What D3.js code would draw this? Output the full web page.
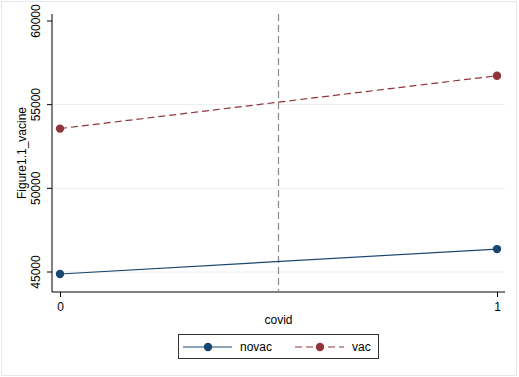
<!DOCTYPE html>
<html>
<head>
<meta charset="utf-8">
<script src="https://cdn.jsdelivr.net/npm/d3@7"></script>
<style>
  body { margin: 0; background: #fff; }
  text { font-family: "Liberation Sans", Arial, sans-serif; fill: #000; }
</style>
</head>
<body>
<div id="chart"></div>
<script>
// data
var covid = [0, 1];
var novac = [44880, 46370];
var vac = [53570, 56730];
var yTicks = [45000, 50000, 55000, 60000];
var xTicks = [0, 1];
var cutoff = 0.5;

var width = 519, height = 377;
var svg = d3.select("#chart").append("svg")
    .attr("width", width).attr("height", height);

// outer frame
svg.append("rect").attr("x", 1.5).attr("y", 1.5)
    .attr("width", 515).attr("height", 374)
    .attr("fill", "#fff").attr("stroke", "#e4e8ec");

var x = d3.scaleLinear().domain([0, 1]).range([60, 497]);
var y = d3.scaleLinear().domain([45000, 60000]).range([272, 21]);

// gridlines
svg.selectAll(".grid").data([45000, 50000, 55000]).enter()
    .append("line")
    .attr("x1", 53).attr("x2", 505)
    .attr("y1", function(d) { return y(d); })
    .attr("y2", function(d) { return y(d); })
    .attr("stroke", "#eaeef1").attr("stroke-width", 1);

// axes
var yAxis = svg.append("g").attr("transform", "translate(52,0)")
    .call(d3.axisLeft(y).tickValues(yTicks).tickSize(5).tickFormat(d3.format("d")));
yAxis.select(".domain").attr("d", "M0,14V292");
yAxis.selectAll("text")
    .attr("transform", function(d) { return "translate(-16," + y(d) + ") rotate(-90)"; })
    .attr("x", 0).attr("y", 0).attr("dy", "0.35em")
    .style("text-anchor", "middle").style("font-size", "12px");
yAxis.selectAll(".tick").attr("transform", "translate(0,0)");
yAxis.selectAll(".tick line").attr("y1", function(d) { return y(d); }).attr("y2", function(d) { return y(d); });

var xAxis = svg.append("g").attr("transform", "translate(0,292)")
    .call(d3.axisBottom(x).tickValues(xTicks).tickSize(5).tickFormat(d3.format("d")));
xAxis.select(".domain").attr("d", "M52,0H505");
xAxis.selectAll("text").attr("dy", "0.9em").style("font-size", "12px");

svg.selectAll(".domain, .tick line").attr("stroke", "#000");

// cutoff line
svg.append("line")
    .attr("x1", x(cutoff)).attr("x2", x(cutoff))
    .attr("y1", 14).attr("y2", 292)
    .attr("stroke", "#8a8a8a").attr("stroke-width", 1.2)
    .attr("stroke-dasharray", "7,4");

var series = [
  { name: "novac", vals: novac, color: "#1a476f", dash: null },
  { name: "vac", vals: vac, color: "#90353b", dash: "7,4" }
];

var line = d3.line()
    .x(function(d, i) { return x(covid[i]); })
    .y(function(d) { return y(d); });

series.forEach(function(s) {
  svg.append("path").datum(s.vals)
      .attr("d", line)
      .attr("fill", "none")
      .attr("stroke", s.color).attr("stroke-width", 1.2)
      .attr("stroke-dasharray", s.dash);
  svg.selectAll(".pt-" + s.name).data(s.vals).enter()
      .append("circle")
      .attr("cx", function(d, i) { return x(covid[i]); })
      .attr("cy", function(d) { return y(d); })
      .attr("r", 4.2)
      .attr("fill", s.color);
});

// titles
svg.append("text")
    .attr("transform", "translate(22,153) rotate(-90)")
    .attr("dy", "0.35em")
    .style("text-anchor", "middle").style("font-size", "12px")
    .text("Figure1.1_vacine");
svg.append("text")
    .attr("x", x(cutoff)).attr("y", 320).attr("dy", "0.35em")
    .style("text-anchor", "middle").style("font-size", "12px")
    .text("covid");

// legend
var lg = svg.append("g");
lg.append("rect").attr("x", 178.5).attr("y", 334.5)
    .attr("width", 200).attr("height", 24)
    .attr("fill", "#fff").attr("stroke", "#333");
var legX = [183, 295];
series.forEach(function(s, i) {
  var x0 = legX[i];
  lg.append("line").attr("x1", x0).attr("x2", x0 + 49)
      .attr("y1", 347).attr("y2", 347)
      .attr("stroke", s.color).attr("stroke-width", 1.2)
      .attr("stroke-dasharray", s.dash);
  lg.append("circle").attr("cx", x0 + 25).attr("cy", 347).attr("r", 4.2)
      .attr("fill", s.color);
  lg.append("text").attr("x", x0 + 57).attr("y", 347).attr("dy", "0.35em")
      .style("font-size", "12px").text(s.name);
});
</script>
</body>
</html>
